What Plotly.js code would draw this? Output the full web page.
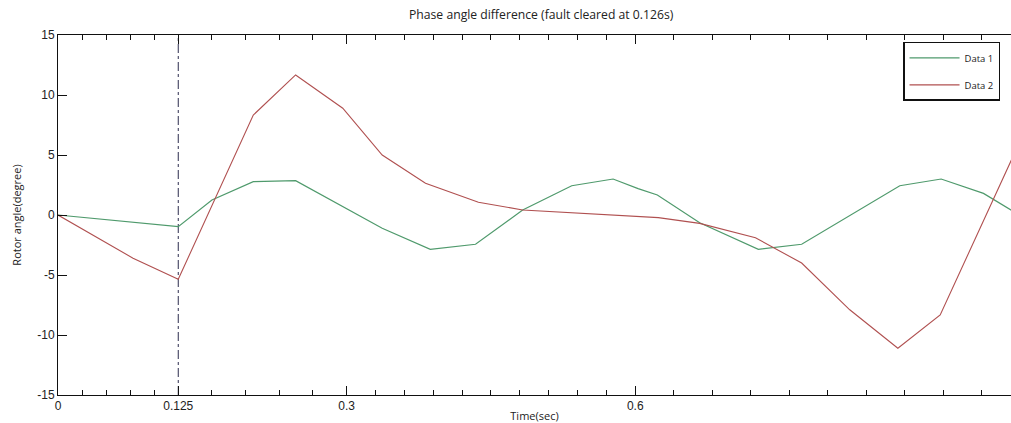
<!DOCTYPE html>
<html>
<head>
<meta charset="utf-8">
<script src="https://cdn.plot.ly/plotly-3.0.1.min.js"></script>
<style>html,body{margin:0;padding:0;background:#fff;}#chart{width:1011px;height:423px;}</style>
</head>
<body>
<div id="chart"></div>
<script>
// ---- data ----
const data1Time = [0, 0.125, 0.160, 0.203, 0.247, 0.298, 0.337, 0.387, 0.434, 0.483, 0.534, 0.577, 0.603, 0.623, 0.667, 0.728, 0.773, 0.875, 0.918, 0.962, 0.991];
const data1Angle = [0, -0.97, 1.25, 2.78, 2.86, 0.6, -1.1, -2.86, -2.44, 0.42, 2.44, 3.0, 2.2, 1.67, -0.64, -2.86, -2.44, 2.44, 3.0, 1.8, 0.4];

const data2Time = [0, 0.078, 0.125, 0.203, 0.247, 0.296, 0.337, 0.382, 0.437, 0.483, 0.624, 0.667, 0.725, 0.773, 0.823, 0.873, 0.917, 0.991];
const data2Angle = [0, -3.6, -5.36, 8.33, 11.67, 8.9, 5.0, 2.64, 1.06, 0.42, -0.22, -0.7, -1.9, -4.0, -7.9, -11.1, -8.33, 4.58];

const faultClearTime = 0.125;
const xRange = [0, 0.9906];
const yRange = [-15, 15];

const xMajorTicks = [0, 0.125, 0.3, 0.6];
const xMajorLabels = ['0', '0.125', '0.3', '0.6'];
const xMinorTicks = [0.025, 0.05, 0.075, 0.1,
  0.16, 0.195, 0.23, 0.265,
  0.33, 0.36, 0.39, 0.42, 0.45, 0.48, 0.51, 0.54, 0.57,
  0.64, 0.68, 0.72, 0.76, 0.80, 0.84, 0.88, 0.92, 0.96];
const yTicks = [-15, -10, -5, 0, 5, 10, 15];
const yTickLabels = ['-15', '-10', '-5', '0', '5', '10', '15'];

const traces = [
  {x: [faultClearTime, faultClearTime], y: yRange, mode: 'lines', showlegend: false,
   line: {color: '#2d2d4d', width: 1, dash: 'dashdot'}, hoverinfo: 'skip'},
  {x: data1Time, y: data1Angle, name: 'Data 1', mode: 'lines', legendgroup: 'a',
   line: {color: '#4f9a6c', width: 1.2}},
  {x: data2Time, y: data2Angle, name: 'Data 2', mode: 'lines', legendgroup: 'b',
   line: {color: '#b05050', width: 1.1}}
];

const layout = {
  width: 1011, height: 423,
  margin: {l: 58, r: 0, t: 35, b: 28},
  paper_bgcolor: '#fff', plot_bgcolor: '#fff',
  title: {text: 'Phase angle difference (fault cleared at 0.126s)',
          font: {family: 'Open Sans', size: 12.2, color: '#222'},
          x: 0.507, xref: 'paper', xanchor: 'center', y: 0.965, yanchor: 'middle'},
  xaxis: {
    range: xRange, showgrid: false, zeroline: false,
    tickmode: 'array', tickvals: xMajorTicks, ticktext: xMajorLabels,
    ticks: 'inside', ticklen: 9, tickwidth: 1, tickcolor: '#111',
    showline: true, linecolor: '#111', linewidth: 1, mirror: 'ticks',
    minor: {tickmode: 'array', tickvals: xMinorTicks, ticks: 'inside', ticklen: 5, tickwidth: 1, tickcolor: '#111'},
    tickfont: {family: 'Liberation Sans', size: 12, color: '#222'},
    title: {text: 'Time(sec)', font: {family: 'Open Sans', size: 11, color: '#222'}, standoff: 3}
  },
  yaxis: {
    range: yRange, showgrid: false, zeroline: false,
    tickmode: 'array', tickvals: yTicks, ticktext: yTickLabels,
    ticks: 'inside', ticklen: 9, tickwidth: 1, tickcolor: '#111',
    showline: true, linecolor: '#111', linewidth: 1, mirror: false,
    tickfont: {family: 'Liberation Sans', size: 12, color: '#222'},
    title: {text: 'Rotor angle(degree)', font: {family: 'Open Sans', size: 11, color: '#222'}, standoff: 13}
  },
  showlegend: true,
  legend: {x: 0.8867, y: 0.981, xanchor: 'left', yanchor: 'top',
           bgcolor: '#fff', bordercolor: '#111', borderwidth: 1.5,
           font: {family: 'Open Sans', size: 9.5, color: '#222'},
           tracegroupgap: 8, itemwidth: 50},
};

Plotly.newPlot('chart', traces, layout, {staticPlot: true, displayModeBar: false});
</script>
</body>
</html>
